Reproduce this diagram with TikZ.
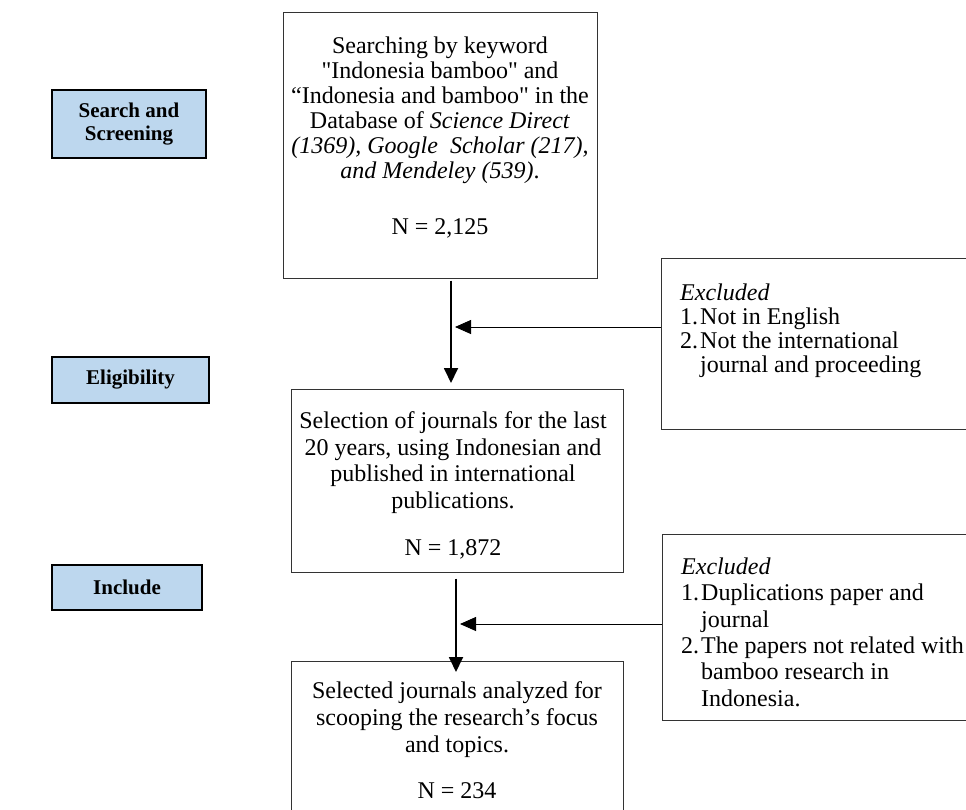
\documentclass[tikz,border=0pt]{standalone}
\usepackage{fontspec}
\setmainfont{Liberation Serif}[Ligatures=TeXOff]
\usetikzlibrary{arrows.meta}
\definecolor{phasefill}{HTML}{BDD7EE}
\begin{document}
\begin{tikzpicture}[x=1pt,y=-1pt,
  phasebox/.style={draw=black, line width=1.3pt, fill=phasefill, inner sep=0pt,
    font=\fontsize{21}{23}\selectfont\bfseries, align=center},
  framebox/.style={draw=black!80, line width=1pt, inner sep=0pt},
  boxtext/.style={inner sep=0pt, align=center, anchor=north},
  extext/.style={inner sep=0pt, align=left, anchor=north west},
  flow/.style={line width=1.8pt, -{Triangle[length=15pt,width=14pt]}},
  sidearrow/.style={line width=0.9pt, -{Triangle[length=16pt,width=14pt]}},
]
\useasboundingbox (0,0) rectangle (966,809);
\clip (0,0) rectangle (966,809);
\fill[white] (0,0) rectangle (966,809);

% phase labels
\node[phasebox, minimum width=154pt, minimum height=68pt] (search) at (129,124) {Search and\\Screening};
\node[phasebox, minimum width=157pt, minimum height=46pt] (elig) at (130.5,380) {Eligibility};
\node[phasebox, minimum width=150pt, minimum height=45pt] (incl) at (127,587.5) {Include};

% main boxes
\node[framebox, minimum width=314pt, minimum height=266pt] (b1) at (440,145) {};
\node[framebox, minimum width=332pt, minimum height=183pt] (b2) at (457,480.5) {};
\node[framebox, minimum width=332pt, minimum height=169pt] (b3) at (457,745.5) {};

\node[boxtext, font=\fontsize{24}{25}\selectfont] (t1) at (440,36.5)
  {Searching by keyword\\
   "Indonesia bamboo" and\\
   “Indonesia and bamboo" in the\\
   Database of \textit{Science Direct}\\
   \textit{(1369), Google\ \ Scholar (217),}\\
   \textit{and Mendeley (539)}.\\[31pt]
   N = 2,125};

\node[boxtext, font=\fontsize{24}{26.5}\selectfont] (t2) at (453,411.5)
  {Selection of journals for the last\\
   20 years, using Indonesian and\\
   published in international\\
   publications.\\[21pt]
   N = 1,872};

\node[boxtext, font=\fontsize{24}{27}\selectfont] (t3) at (457,681.5)
  {Selected journals analyzed for\\
   scooping the research’s focus\\
   and topics.\\[19pt]
   N = 234};

% excluded boxes
\node[framebox, minimum width=329pt, minimum height=171pt] (ex1) at (825.5,343.5) {};
\node[framebox, minimum width=328pt, minimum height=186pt] (ex2) at (826,627) {};

\node[extext, font=\fontsize{24}{24}\selectfont] (e1) at (680,283.5)
  {\textit{Excluded}\\
   \makebox[20pt][l]{1.}Not in English\\
   \makebox[20pt][l]{2.}Not the international\\
   \hspace*{20pt}journal and proceeding};

\node[extext, font=\fontsize{24}{26.4}\selectfont] (e2) at (681,557.5)
  {\textit{Excluded}\\
   \makebox[20pt][l]{1.}Duplications paper and\\
   \hspace*{20pt}journal\\
   \makebox[20pt][l]{2.}The papers not related with\\
   \hspace*{20pt}bamboo research in\\
   \hspace*{20pt}Indonesia.};

% connectors
\coordinate (a1) at (451,383);
\coordinate (a2) at (456,672);
\coordinate (m1) at (455,327);
\coordinate (m2) at (460,624);
\draw[flow] ([yshift=-2pt]b1.south -| a1) -- (a1);
\draw[flow] ([yshift=-6pt]b2.south -| a2) -- (a2);
\draw[sidearrow] (ex1.west |- m1) -- (m1);
\draw[sidearrow] (ex2.west |- m2) -- (m2);
\end{tikzpicture}
\end{document}
